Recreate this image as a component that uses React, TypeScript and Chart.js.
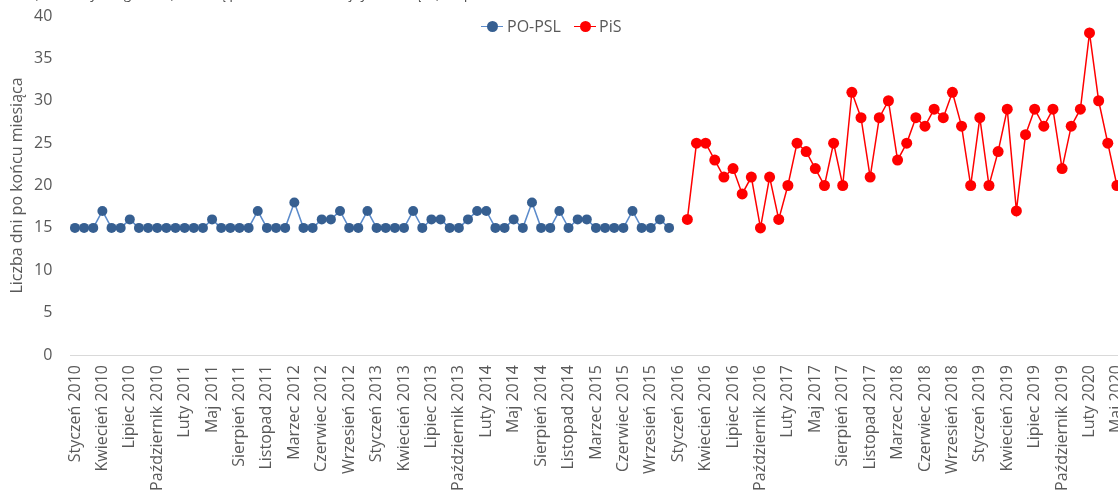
import React, { useEffect, useRef } from 'react';
import { Chart, registerables } from 'chart.js';

Chart.register(...registerables);

// Months without December (no data published for December)
const MONTHS = ['Styczeń', 'Luty', 'Marzec', 'Kwiecień', 'Maj', 'Czerwiec', 'Lipiec', 'Sierpień', 'Wrzesień', 'Październik', 'Listopad'];
const YEARS = [2010, 2011, 2012, 2013, 2014, 2015, 2016, 2017, 2018, 2019, 2020];
const MONTHS_IN_LAST_YEAR = 5; // through Maj 2020

const CATEGORIES: string[] = YEARS.flatMap((y, yi) =>
  (yi === YEARS.length - 1 ? MONTHS.slice(0, MONTHS_IN_LAST_YEAR) : MONTHS).map((m) => `${m} ${y}`)
);

// PO-PSL: Styczeń 2010 – Listopad 2015
const PO_PSL = [
  15, 15, 15, 17, 15, 15, 16, 15, 15, 15, 15,
  15, 15, 15, 15, 16, 15, 15, 15, 15, 17, 15,
  15, 15, 18, 15, 15, 16, 16, 17, 15, 15, 17,
  15, 15, 15, 15, 17, 15, 16, 16, 15, 15, 16,
  17, 17, 15, 15, 16, 15, 18, 15, 15, 17, 15,
  16, 16, 15, 15, 15, 15, 17, 15, 15, 16, 15,
];

// PiS: Luty 2016 – Maj 2020
const PIS = [
  16, 25, 25, 23, 21, 22, 19, 21, 15, 21,
  16, 20, 25, 24, 22, 20, 25, 20, 31, 28,
  21, 28, 30, 23, 25, 28, 27, 29, 28, 31,
  27, 20, 28, 20, 24, 29, 17, 26, 29, 27,
  29, 22, 27, 29, 38, 30, 25, 20,
];

const Y_TICKS = { min: 0, max: 40, step: 5 };
const Y_TITLE = 'Liczba dni po końcu miesiąca';
const SERIES_NAMES = ['PO-PSL', 'PiS'];
const TOP_NOTE = 'Średni czas publikacji danych, liczba dni, bez danych z grudnia, które są publikowane w kolejnym miesiącu, w opracowaniu';

const BLUE = '#365F91';
const BLUE_LINE = '#5B8BCB';
const RED = '#FF0000';
const TEXT = '#595959';
const FONT = "'Open Sans', sans-serif";

export default function App() {
  const canvasRef = useRef<HTMLCanvasElement | null>(null);

  useEffect(() => {
    if (!canvasRef.current) return;
    const n = CATEGORIES.length;
    const poData: (number | null)[] = CATEGORIES.map((_, i) => (i < PO_PSL.length ? PO_PSL[i] : null));
    const pisStart = n - PIS.length;
    const pisData: (number | null)[] = CATEGORIES.map((_, i) => (i >= pisStart ? PIS[i - pisStart] : null));

    const chart = new Chart(canvasRef.current, {
      type: 'line',
      data: {
        labels: CATEGORIES,
        datasets: [
          {
            label: SERIES_NAMES[0],
            data: poData,
            borderColor: BLUE_LINE,
            backgroundColor: BLUE,
            pointBackgroundColor: BLUE,
            pointBorderColor: BLUE,
            pointRadius: 5,
            pointBorderWidth: 0,
            borderWidth: 1.5,
            spanGaps: false,
          },
          {
            label: SERIES_NAMES[1],
            data: pisData,
            borderColor: RED,
            backgroundColor: RED,
            pointBackgroundColor: RED,
            pointBorderColor: RED,
            pointRadius: 5.5,
            pointBorderWidth: 0,
            borderWidth: 1.5,
            spanGaps: false,
          },
        ],
      },
      options: {
        animation: false,
        responsive: true,
        maintainAspectRatio: false,
        layout: { padding: { top: 16, left: 0, right: 0, bottom: 0 } },
        plugins: {
          legend: { display: false },
          tooltip: { enabled: false },
          title: { display: false },
        },
        scales: {
          x: {
            type: 'category',
            offset: true,
            grid: { display: false, drawTicks: false },
            border: { display: true, color: '#D9D9D9', width: 1 },
            ticks: {
              autoSkip: false,
              minRotation: 90,
              maxRotation: 90,
              padding: 10,
              color: TEXT,
              font: { family: FONT, size: 16 },
              callback: (_v: any, i: number) => (i % 3 === 0 ? CATEGORIES[i] : ''),
            },
            afterFit: (s: any) => {
              s.height = 165;
              s.paddingLeft = 0;
              s.paddingRight = 0;
            },
          },
          y: {
            min: Y_TICKS.min,
            max: Y_TICKS.max,
            grid: { display: false, drawTicks: false },
            border: { display: false },
            ticks: {
              stepSize: Y_TICKS.step,
              padding: 18,
              color: TEXT,
              font: { family: FONT, size: 16 },
            },
            title: {
              display: true,
              text: Y_TITLE,
              color: TEXT,
              font: { family: FONT, size: 16 },
              padding: { top: 8, bottom: 0 },
            },
            afterFit: (s: any) => {
              s.width = 70.4;
              s.paddingTop = 0;
              s.paddingBottom = 0;
            },
          },
        },
      },
    });
    return () => chart.destroy();
  }, []);

  const legendItem = (x: number, color: string, lineColor: string, text: string, textX: number) => (
    <>
      <div style={{ position: 'absolute', left: x, top: 25.5, width: 22, height: 1.5, background: lineColor }} />
      <div
        style={{
          position: 'absolute',
          left: x + 11 - 5.5,
          top: 21,
          width: 11,
          height: 11,
          borderRadius: '50%',
          background: color,
        }}
      />
      <span
        style={{
          position: 'absolute',
          left: textX,
          top: 15,
          fontFamily: FONT,
          fontSize: 16,
          lineHeight: '22px',
          color: TEXT,
          whiteSpace: 'nowrap',
        }}
      >
        {text}
      </span>
    </>
  );

  return (
    <div
      style={{
        position: 'fixed',
        left: 0,
        top: 0,
        width: 1118,
        height: 495,
        overflow: 'hidden',
        background: '#fff',
      }}
    >
      <div style={{ position: 'absolute', left: 0, top: 0, width: 1127, height: 520 }}>
        <canvas ref={canvasRef} />
      </div>
      <div
        style={{
          position: 'absolute',
          right: 1118 - 535,
          top: -14,
          fontFamily: FONT,
          fontSize: 13,
          lineHeight: '16px',
          color: '#404040',
          whiteSpace: 'nowrap',
        }}
      >
        {TOP_NOTE}
      </div>
      {legendItem(481, BLUE, BLUE_LINE, SERIES_NAMES[0], 507)}
      {legendItem(574, RED, RED, SERIES_NAMES[1], 599)}
    </div>
  );
}
